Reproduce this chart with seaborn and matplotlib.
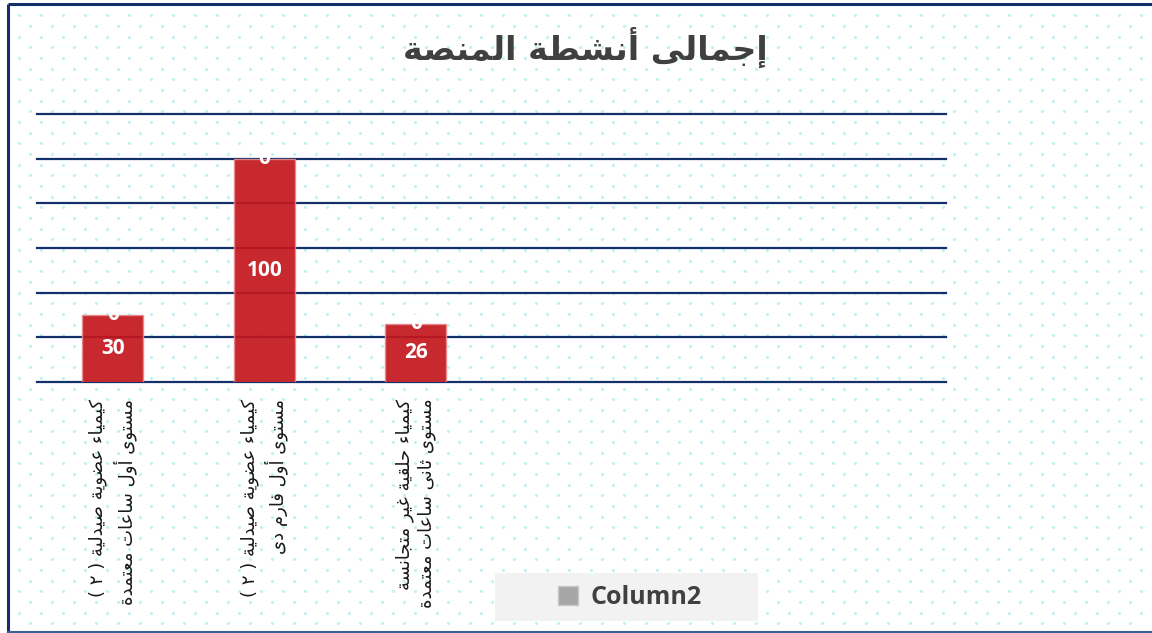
import numpy as np
import pandas as pd
import seaborn as sns
import matplotlib.pyplot as plt
from matplotlib.patches import Rectangle, Patch

# data
categories = [
    "كيمياء عضوية صيدلية ( ٢ )\nمستوى أول ساعات معتمدة",
    "كيمياء عضوية صيدلية ( ٢ )\nمستوى أول فارم دى",
    "كيمياء حلقية غير متجانسة\nمستوى ثانى ساعات معتمدة",
]
column1 = [30, 100, 26]
column2 = [0, 0, 0]
title = "إجمالى أنشطة المنصة"
legend_label = "Column2"

# minimal arabic shaping (matplotlib has no bidi / joining support)
DUAL = {'ئ': 0xFE89, 'ب': 0xFE8F, 'ت': 0xFE95, 'ث': 0xFE99, 'ج': 0xFE9D, 'ح': 0xFEA1,
        'خ': 0xFEA5, 'س': 0xFEB1, 'ش': 0xFEB5, 'ص': 0xFEB9, 'ض': 0xFEBD, 'ط': 0xFEC1,
        'ظ': 0xFEC5, 'ع': 0xFEC9, 'غ': 0xFECD, 'ف': 0xFED1, 'ق': 0xFED5, 'ك': 0xFED9,
        'ل': 0xFEDD, 'م': 0xFEE1, 'ن': 0xFEE5, 'ه': 0xFEE9, 'ي': 0xFEF1}
RIGHT = {'آ': 0xFE81, 'أ': 0xFE83, 'ؤ': 0xFE85, 'إ': 0xFE87, 'ا': 0xFE8D, 'ة': 0xFE93,
         'د': 0xFEA9, 'ذ': 0xFEAB, 'ر': 0xFEAD, 'ز': 0xFEAF, 'و': 0xFEED, 'ى': 0xFEEF}
ISOL = {'ء': 0xFE80}
LAMALEF = {'آ': 0xFEF5, 'أ': 0xFEF7, 'إ': 0xFEF9, 'ا': 0xFEFB}
MIRROR = {'(': ')', ')': '('}


def shape_line(text):
    units = []
    i = 0
    while i < len(text):
        c = text[i]
        if c == 'ل' and i + 1 < len(text) and text[i + 1] in LAMALEF:
            units.append((c, LAMALEF[text[i + 1]], 'R'))
            i += 2
            continue
        if c in DUAL:
            units.append((c, DUAL[c], 'D'))
        elif c in RIGHT:
            units.append((c, RIGHT[c], 'R'))
        elif c in ISOL:
            units.append((c, ISOL[c], 'U'))
        else:
            units.append((MIRROR.get(c, c), None, 'X'))
        i += 1
    glyphs = []
    for k, (c, base, kind) in enumerate(units):
        if base is None:
            glyphs.append(c)
            continue
        prev_c = k > 0 and units[k - 1][2] == 'D' and kind in 'DR'
        next_c = kind == 'D' and k + 1 < len(units) and units[k + 1][2] in 'DR'
        if kind == 'U':
            off = 0
        elif kind == 'R':
            off = 1 if prev_c else 0
        else:
            off = {(False, False): 0, (True, False): 1, (False, True): 2, (True, True): 3}[(prev_c, next_c)]
        glyphs.append(chr(base + off))
    return ''.join(reversed(glyphs))


def shape(text):
    return '\n'.join(shape_line(l) for l in text.split('\n'))


navy = '#13306a'
W, H = 1152, 633
fig = plt.figure(figsize=(11.52, 6.33), dpi=100)

# background: dotted pattern + frame
bg = fig.add_axes([0, 0, 1, 1], zorder=-1)
bg.set_xlim(0, W)
bg.set_ylim(H, 0)
bg.axis('off')
rows = np.arange(15.3, H, 10.67)
xs, ys = [], []
for r, yy in enumerate(rows):
    xx = np.arange(19 + 11 * (r % 2), W, 22)
    xs.extend(xx)
    ys.extend([yy] * len(xx))
bg.scatter(xs, ys, s=5, color='#bff1f6', linewidths=0)
bg.plot([8, W], [4, 4], color=navy, lw=2.2, solid_capstyle='butt')
bg.plot([8, 8], [4, H], color=navy, lw=2.2, solid_capstyle='butt')
bg.plot([8, W], [632, 632], color='#3d5f98', lw=1.5)

ax = fig.add_axes([37 / W, 1 - 382 / H, (946 - 37) / W, (382 - 114) / H])
ax.set_facecolor('none')

df = pd.DataFrame({'category': categories, 'Column1': column1, 'Column2': column2})
sns.barplot(data=df, x='category', y='Column1', order=categories, color='#c4161c',
            saturation=1, alpha=0.92, width=0.40, edgecolor='#e58a8c', linewidth=1,
            ax=ax)
sns.barplot(data=df, x='category', y='Column2', order=categories, color='#a6a6a6',
            saturation=1, width=0.40, ax=ax)

ax.set_ylim(0, 120)
ax.set_yticks(np.arange(0, 121, 20))
ax.set_xlim(-0.5, 5.5)
ax.yaxis.grid(True, color=navy, lw=1.6)
for gl in ax.get_ygridlines():
    gl.set_clip_on(False)
ax.set_axisbelow(True)
for s in ax.spines.values():
    s.set_visible(False)
ax.set_ylabel('')
ax.set_xlabel('')
ax.tick_params(axis='y', length=0, labelleft=False)
ax.tick_params(axis='x', length=0, pad=12)
ax.set_xticks(range(len(categories)))
ax.set_xticklabels([shape(c) for c in categories], rotation=90, ha='center', va='top',
                   multialignment='right', fontsize=13, color='#1a1a1a',
                   family='DejaVu Sans', linespacing=1.3)

ax.bar_label(ax.containers[0], label_type='center', color='white', fontsize=15,
             fontweight='bold', family='Open Sans')
for i, (a, b) in enumerate(zip(column1, column2)):
    ax.text(i, a + b, str(b), ha='center', va='center', color='white', fontsize=15,
            fontweight='bold', family='Open Sans')

fig.text(0.508, 1 - 47 / H, shape(title), ha='center', va='center', fontsize=24,
         fontweight='bold', color='#404040', family='DejaVu Sans')

# legend
bg.add_patch(Rectangle((495, 573), 263, 48, facecolor='#f2f2f2', edgecolor='none'))
fig.legend(handles=[Patch(facecolor='#a6a6a6', edgecolor='#c8c8c8')], labels=[legend_label],
           loc='center', bbox_to_anchor=(630 / W, 1 - 598 / H), frameon=False,
           handlelength=0.8, handleheight=0.8, handletextpad=0.5,
           prop={'family': 'Open Sans', 'weight': 'bold', 'size': 18}, labelcolor='#404040')

fig.savefig('out.png', dpi=100)
